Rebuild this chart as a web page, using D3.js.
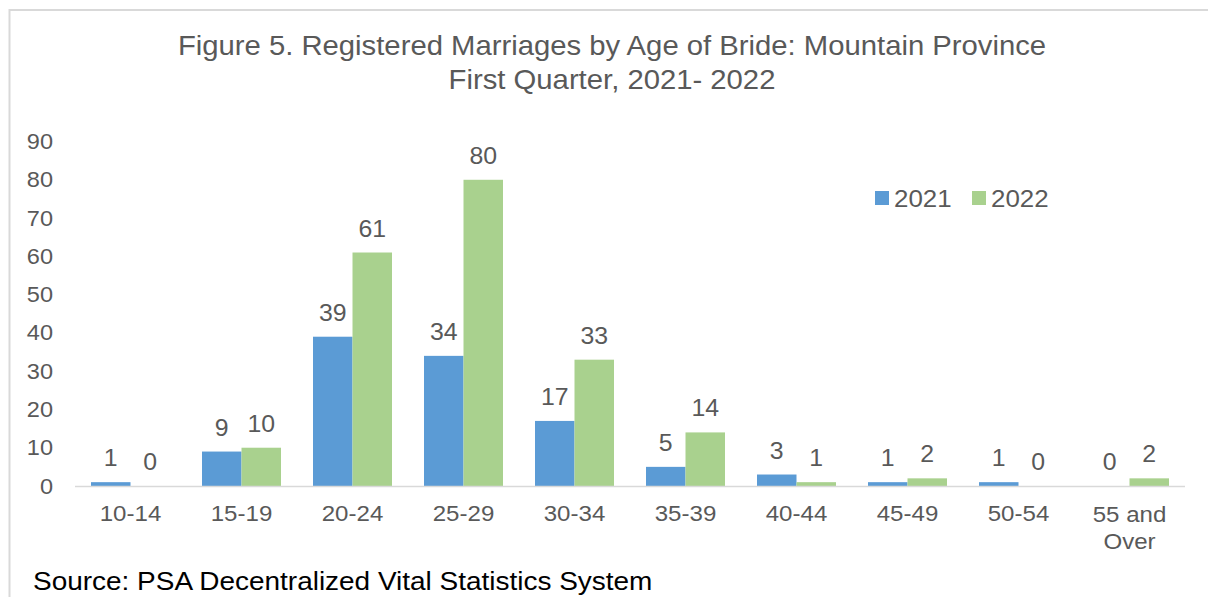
<!DOCTYPE html>
<html>
<head>
    <meta charset="utf-8">
    <title>Registered Marriages by Age of Bride</title>
    <script src="https://d3js.org/d3.v7.min.js"></script>
    <style>
        body { margin: 0; background: #fff; }
        svg { display: block; font-family: "Liberation Sans", Arial, sans-serif; }
    </style>
</head>
<body>
<svg width="1208" height="597"></svg>
<script>
    // data
    var categories = ["10-14", "15-19", "20-24", "25-29", "30-34", "35-39", "40-44", "45-49", "50-54", "55 and Over"];
    var seriesNames = ["2021", "2022"];
    var values2021 = [1, 9, 39, 34, 17, 5, 3, 1, 1, 0];
    var values2022 = [0, 10, 61, 80, 33, 14, 1, 2, 0, 2];
    var yTicks = [0, 10, 20, 30, 40, 50, 60, 70, 80, 90];
    var titleLines = ["Figure 5. Registered Marriages by Age of Bride: Mountain Province", "First Quarter, 2021- 2022"];
    var sourceText = "Source: PSA Decentralized Vital Statistics System";

    var colors = {"2021": "#5B9BD5", "2022": "#A9D18E"};
    var textColor = "#595959";
    var stretch = 1.08; // text in the picture is a little wider than tall

    var svg = d3.select("svg");

    // frame (top and left edge)
    svg.append("line").attr("x1", 9).attr("x2", 1208).attr("y1", 10).attr("y2", 10)
        .style("stroke", "#D9D9D9").style("stroke-width", 2);
    svg.append("line").attr("x1", 9.5).attr("x2", 9.5).attr("y1", 9).attr("y2", 597)
        .style("stroke", "#D9D9D9").style("stroke-width", 2);

    function addText(g, x, y, str, size, anchor, fill) {
        return g.append("text")
            .attr("transform", "translate(" + x + "," + y + ") scale(" + stretch + ",1)")
            .attr("text-anchor", anchor)
            .style("font-size", size + "px")
            .style("fill", fill || textColor)
            .text(str);
    }

    // scales
    var xScale = d3.scaleBand()
        .domain(categories)
        .range([75, 1185]);

    var xInner = d3.scaleBand()
        .domain(seriesNames)
        .range([16, 95]);

    var yScale = d3.scaleLinear()
        .domain([0, 90])
        .range([486, 141.5]);

    var rows = categories.map(function(c, i) {
        return {cat: c, vals: [
            {name: "2021", v: values2021[i]},
            {name: "2022", v: values2022[i]}
        ]};
    });

    // title
    addText(svg, 612, 55, titleLines[0], 27.1, "middle");
    addText(svg, 612, 89, titleLines[1], 27.1, "middle");

    // y tick labels
    yTicks.forEach(function(t) {
        addText(svg, 53, yScale(t) + 7.5, t, 21.8, "end");
    });

    // bars
    var groups = svg.selectAll("g.cat")
        .data(rows)
        .enter().append("g")
        .attr("class", "cat")
        .attr("transform", function(d) { return "translate(" + xScale(d.cat) + ",0)"; });

    groups.selectAll("rect")
        .data(function(d) { return d.vals; })
        .enter().append("rect")
        .attr("x", function(d) { return xInner(d.name); })
        .attr("width", xInner.bandwidth())
        .attr("y", function(d) { return yScale(d.v); })
        .attr("height", function(d) { return yScale(0) - yScale(d.v); })
        .style("fill", function(d) { return colors[d.name]; });

    // value labels
    groups.each(function(d) {
        var g = d3.select(this);
        d.vals.forEach(function(s) {
            addText(g, xInner(s.name) + xInner.bandwidth() / 2, yScale(s.v) - 16, s.v, 23, "middle");
        });
    });

    // x axis line
    svg.append("line")
        .attr("x1", xScale.range()[0]).attr("x2", xScale.range()[1])
        .attr("y1", yScale(0) + 0.5).attr("y2", yScale(0) + 0.5)
        .style("stroke", "#D9D9D9").style("stroke-width", 1.7);

    // x labels
    categories.forEach(function(c) {
        var cx = xScale(c) + xScale.bandwidth() / 2;
        if (c === "55 and Over") {
            addText(svg, cx, 522, "55 and", 22.3, "middle");
            addText(svg, cx, 549, "Over", 22.3, "middle");
        } else {
            addText(svg, cx, 521, c, 22.3, "middle");
        }
    });

    // legend
    var legendX = [875, 972];
    seriesNames.forEach(function(name, i) {
        svg.append("rect")
            .attr("x", legendX[i]).attr("y", 191)
            .attr("width", 14).attr("height", 14)
            .style("fill", colors[name]);
        addText(svg, legendX[i] + 19, 207, name, 24, "start");
    });

    // source
    addText(svg, 33, 590, sourceText, 25.9, "start", "#000");
</script>
</body>
</html>
